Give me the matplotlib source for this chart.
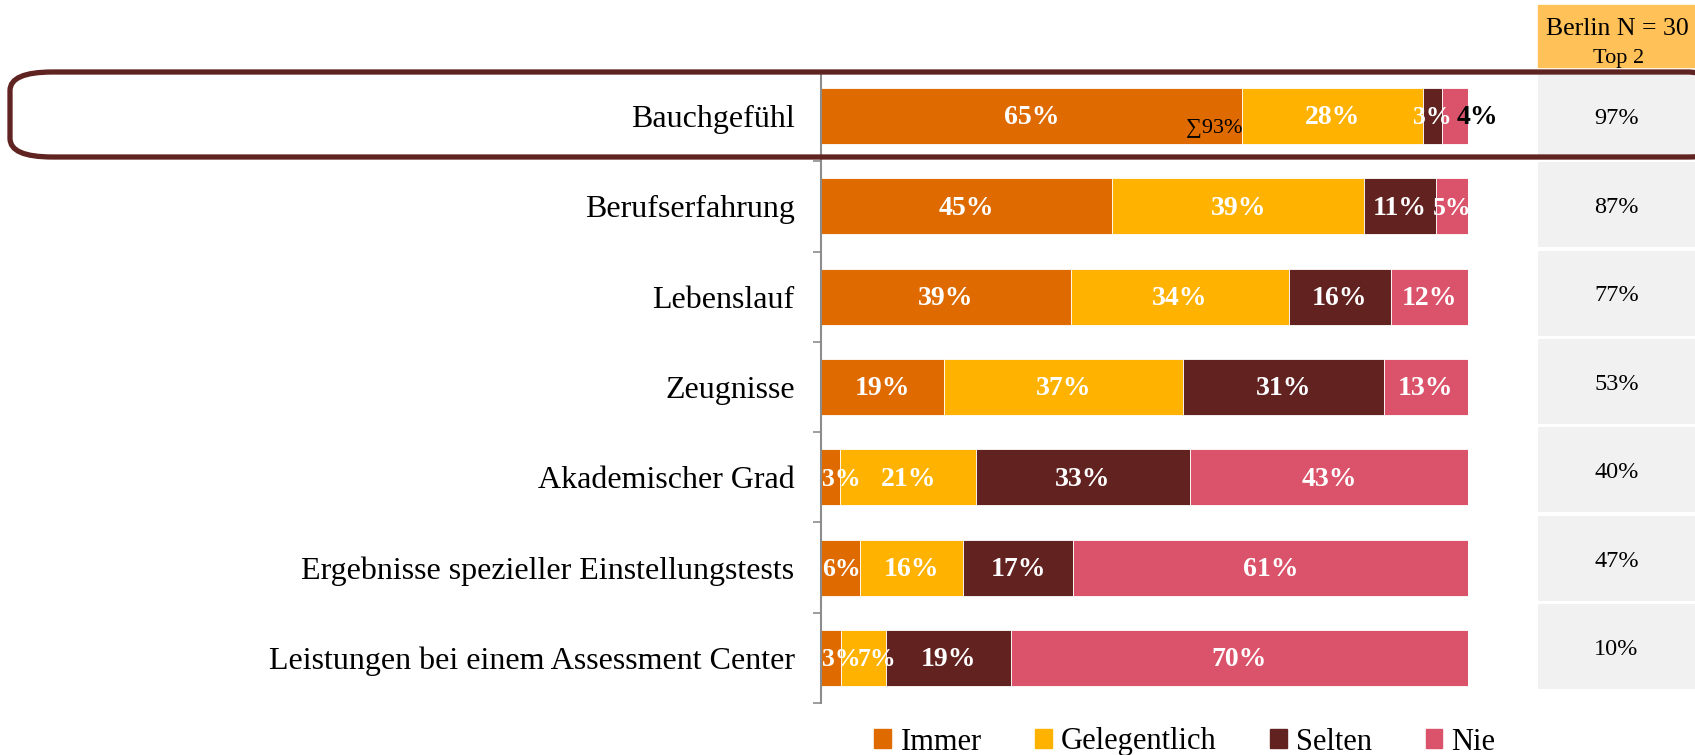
import matplotlib
matplotlib.use("Agg")
import matplotlib.pyplot as plt
from matplotlib.patches import Rectangle, FancyBboxPatch, Patch
import numpy as np

plt.rcParams["font.family"] = ["Liberation Serif", "DejaVu Serif"]

# data
categories = ["Bauchgefühl", "Berufserfahrung", "Lebenslauf", "Zeugnisse",
              "Akademischer Grad", "Ergebnisse spezieller Einstellungstests",
              "Leistungen bei einem Assessment Center"]
series = ["Immer", "Gelegentlich", "Selten", "Nie"]
immer = [65, 45, 39, 19, 3, 6, 3]
gelegentlich = [28, 39, 34, 37, 21, 16, 7]
selten = [3, 11, 16, 31, 33, 17, 19]
nie = [4, 5, 12, 13, 43, 61, 70]
top2 = [97, 87, 77, 53, 40, 47, 10]
sum_label = "∑93%"
header = ["Berlin N = 30", "Top 2"]

colors = ["#DE6A00", "#FFB300", "#612220", "#DB536A"]

W, H = 1695, 755
fig = plt.figure(figsize=(W / 100, H / 100), dpi=100)

# rounded percentages: scale each row so the bar fills 100 %
table = np.array([immer, gelegentlich, selten, nie], dtype=float)
widths = table / table.sum(axis=0) * 100

top_px, bot_px = 71, 703
ax = fig.add_axes([821 / W, 1 - bot_px / H, 647 / W, (bot_px - top_px) / H])
y = np.arange(len(categories))
left = np.zeros(len(categories))
for k, (name, col) in enumerate(zip(series, colors)):
    w = widths[k]
    ax.barh(y, w, left=left, height=0.62, color=col, edgecolor="white",
            linewidth=0.6, label=name)
    for i in range(len(categories)):
        txt = f"{table[k, i]:.0f}%"
        xc = left[i] + w[i] / 2
        fs = 20 if w[i] >= 8 else 18.5
        if i == 0 and name == "Nie":
            # small segment label sits outside the bar
            ax.text(101.5, i + 0.02, txt, ha="center", va="center",
                    color="black", fontsize=20, fontweight="bold")
            continue
        if k == 0 and w[i] < 8:
            ax.text(0.1, i + 0.02, txt, ha="left", va="center",
                    color="white", fontsize=fs, fontweight="bold")
            continue
        if k == 1 and w[i] < 8:
            xc += 2.0  # nudge away from the neighbouring small label
        ax.text(xc, i + 0.02, txt, ha="center", va="center",
                color="white", fontsize=fs, fontweight="bold")
    left += w

ax.text(widths[0, 0] + 0.2, 0.13, sum_label, ha="right", va="center",
        fontsize=16, color="black")

ax.set_xlim(0, 100)
ax.set_ylim(len(categories) - 0.5, -0.5)
ax.set_yticks(y)
ax.set_yticklabels(categories, fontsize=23)
ax.set_yticks(np.arange(-0.5, len(categories)), minor=True)
ax.tick_params(axis="y", which="major", length=0, pad=19)
ax.tick_params(axis="y", which="minor", length=6, width=1.2, color="#8C8C8C",
               direction="out")
ax.set_xticks([])
for s in ["top", "right", "bottom"]:
    ax.spines[s].set_visible(False)
ax.spines["left"].set_color("#8C8C8C")
ax.spines["left"].set_linewidth(1.5)

# side table
t_top, t_bot = 72, 691
tax = fig.add_axes([1538 / W, 1 - t_bot / H, (W - 1538) / W, (t_bot - t_top) / H])
tax.barh(y, 1, left=0, height=0.96, color="#F1F1F1")
for i, v in enumerate(top2):
    tax.text(0.5, i + 0.03, f"{v}%", ha="center", va="center", fontsize=17.5)
tax.set_xlim(0, 1)
tax.set_ylim(len(categories) - 0.5, -0.5)
tax.axis("off")

fig.add_artist(Rectangle((1538 / W, 1 - 67 / H), (W - 1538) / W, 62 / H,
                         transform=fig.transFigure, color="#FFC158", zorder=0))
fig.text(1617 / W, 1 - 29 / H, header[0], ha="center", va="center", fontsize=18.5)
fig.text(1619 / W, 1 - 59 / H, header[1], ha="center", va="center", fontsize=16)

# highlight frame around the first row
fig.add_artist(FancyBboxPatch((10 / W, 1 - 157 / H), 1720 / W, 85 / H,
                              boxstyle="round,pad=0,rounding_size=0.025",
                              transform=fig.transFigure, fill=False,
                              edgecolor="#5F2321", linewidth=3.8,
                              mutation_aspect=H / W * 2.2, zorder=5))

handles = [Patch(color=c, label=s) for c, s in zip(colors, series)]
fig.legend(handles=handles, loc="center", bbox_to_anchor=(1185 / W, 1 - 742 / H),
           ncol=4, frameon=False, fontsize=22, handlelength=0.55,
           handleheight=0.55, handletextpad=0.3, columnspacing=1.75)

fig.savefig("out.png", dpi=100)
